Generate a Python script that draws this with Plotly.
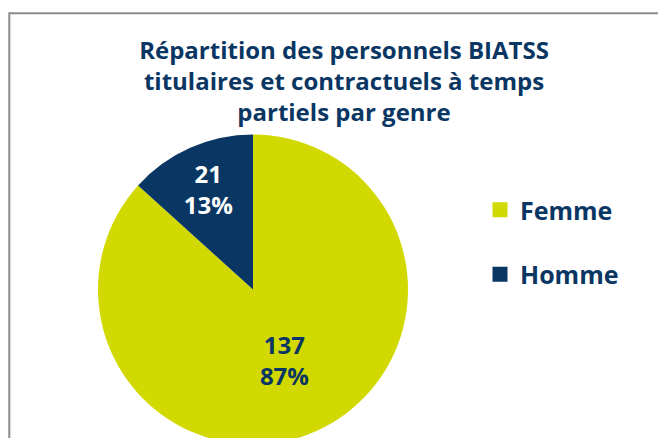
import plotly.graph_objects as go

categories = ["Femme", "Homme"]
values = [137, 21]
colors = ["#D2D900", "#0A3663"]
label_colors = ["#0A3663", "#FFFFFF"]
title_text = "Répartition des personnels BIATSS<br>titulaires et contractuels à temps<br>partiels par genre"

W, H = 666, 438
FONT = "Open Sans"
NAVY = "#0A3663"

fig = go.Figure()
fig.add_trace(go.Pie(
    labels=categories,
    values=values,
    sort=False,
    direction="clockwise",
    rotation=0,
    marker=dict(colors=colors, line=dict(width=0)),
    texttemplate="%{value}<br>%{percent:.0%}",
    textposition="inside",
    insidetextorientation="horizontal",
    insidetextfont=dict(family=FONT, size=24, color=label_colors, weight="bold"),
    hoverinfo="label+value+percent",
    showlegend=False,
    domain=dict(x=[90 / W, 400 / W], y=[0, 1 - 125 / H]),
))

# legend entries
for c, col in zip(categories, colors):
    fig.add_trace(go.Scatter(
        x=[None], y=[None], mode="markers", name=c,
        marker=dict(symbol="square", size=15, color=col),
        legendgroup=c, showlegend=True,
    ))

fig.update_layout(
    width=W, height=H,
    margin=dict(l=0, r=0, t=0, b=0),
    paper_bgcolor="white",
    plot_bgcolor="white",
    xaxis=dict(visible=False),
    yaxis=dict(visible=False),
    title=dict(
        text=title_text,
        x=336 / W, xanchor="center", xref="paper",
        y=1 - 51 / H, yanchor="top", yref="container",
        font=dict(family=FONT, size=24, color=NAVY, weight="bold"),
    ),
    legend=dict(
        x=472 / W, xanchor="left",
        y=1 - 179 / H, yanchor="top",
        font=dict(family=FONT, size=25, color=NAVY, weight="bold"),
        tracegroupgap=29,
        bgcolor="rgba(0,0,0,0)",
    ),
    shapes=[dict(
        type="rect", xref="paper", yref="paper",
        x0=1.3 / W, x1=1.05, y0=-0.05, y1=1 - 5.3 / H,
        line=dict(color="#8C8C8C", width=2),
        fillcolor="rgba(0,0,0,0)",
        layer="below",
    )],
)

fig.write_html("out.html")
